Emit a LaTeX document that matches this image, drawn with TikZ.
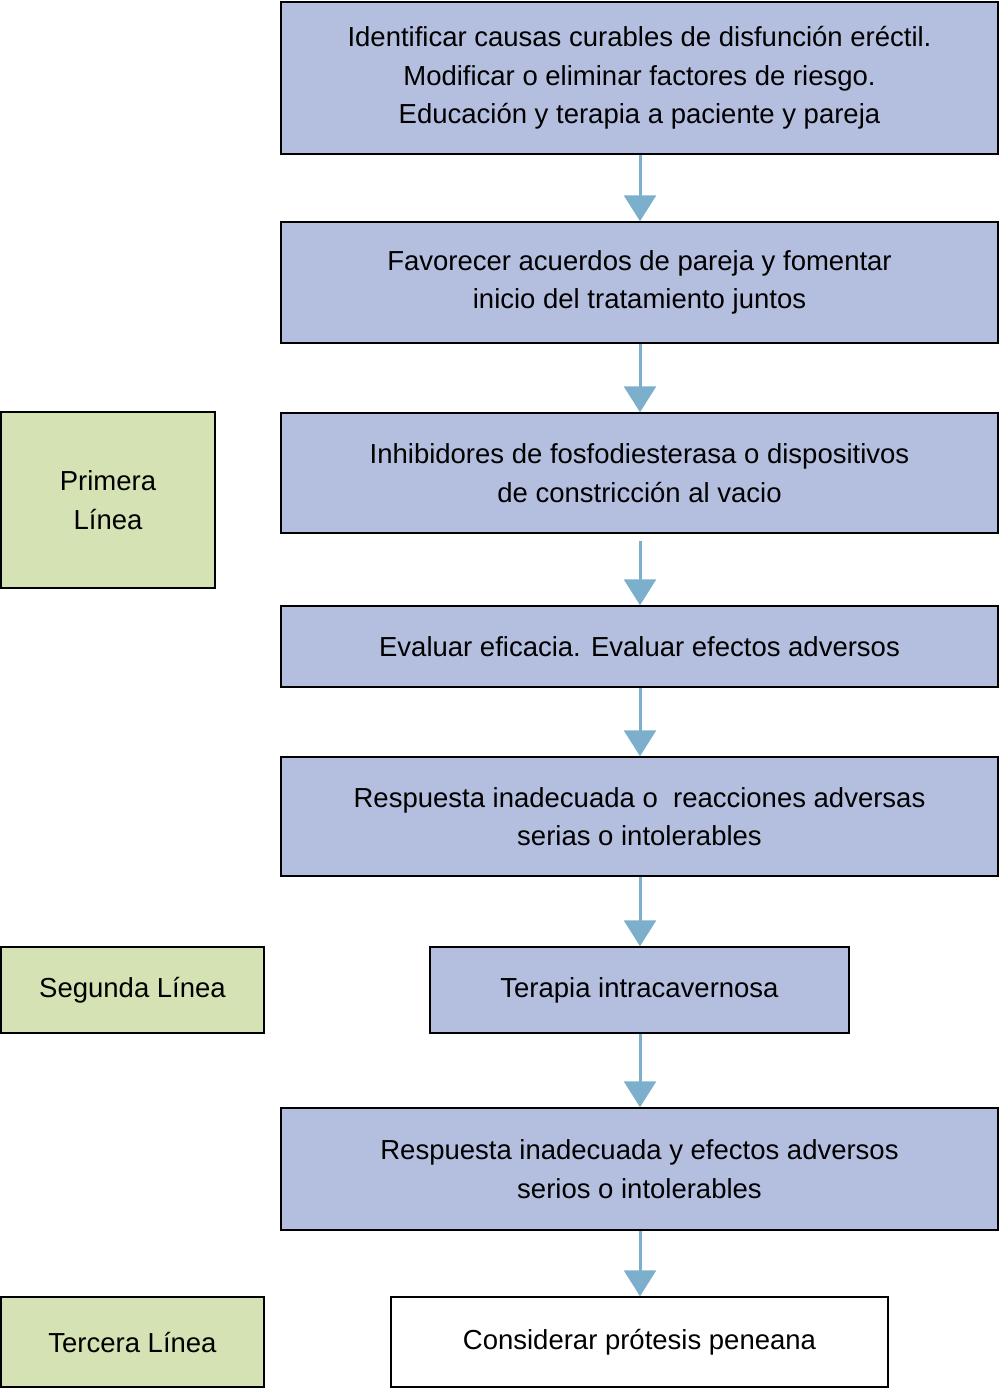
\documentclass[tikz,border=0pt]{standalone}
\usepackage{fontspec}
\setmainfont{Liberation Sans}
\usetikzlibrary{arrows.meta}
\definecolor{bfill}{HTML}{B4BFE0}
\definecolor{gfill}{HTML}{D5E2B4}
\definecolor{arr}{HTML}{7BAFCB}
\begin{document}
\begin{tikzpicture}[x=1pt,y=-1pt,
  box/.style={draw=black,line width=1.5pt,fill=bfill,align=center,font=\fontsize{27.5}{38.5}\selectfont},
  gbox/.style={box,fill=gfill},
  wbox/.style={box,fill=white},
  ar/.style={draw=arr,line width=3pt,-{Triangle[width=32pt,length=26pt]}}]
\useasboundingbox (0,0) rectangle (1000,1389);
\def\bx#1#2#3#4#5#6#7{\node[#1,minimum width=#4-#3,minimum height=#6-#5,inner sep=0pt] (#2) at ({(#3+#4)/2},{(#5+#6)/2}) {#7};}
\bx{box}{b1}{281}{998}{2}{154}{Identificar causas curables de disfunción eréctil.\\Modificar o eliminar factores de riesgo.\\Educación y terapia a paciente y pareja}
\bx{box}{b2}{281}{998}{222}{343}{Favorecer acuerdos de pareja y fomentar\\inicio del tratamiento juntos}
\bx{box}{b3}{281}{998}{413}{533}{Inhibidores de fosfodiesterasa o dispositivos\\de constricción al vacio}
\bx{box}{b4}{281}{998}{606}{687}{Evaluar eficacia. Evaluar efectos adversos}
\bx{box}{b5}{281}{998}{757}{876}{Respuesta inadecuada o\ \ reacciones adversas\\serias o intolerables}
\bx{box}{b6}{430}{849}{947}{1033}{Terapia intracavernosa}
\bx{box}{b7}{281}{998}{1108}{1230}{Respuesta inadecuada y efectos adversos\\serios o intolerables}
\bx{wbox}{b8}{391}{888}{1297}{1387}{Considerar prótesis peneana}
\bx{gbox}{g1}{1}{215}{412}{588}{Primera\\Línea}
\bx{gbox}{g2}{1}{264}{947}{1033}{Segunda Línea}
\bx{gbox}{g3}{1}{264}{1297}{1387}{Tercera Línea}
\coordinate (s3) at (640,541);
\draw[ar] (b1.south -| 640,0) -- (b2.north -| 640,0);
\draw[ar] (b2.south -| 640,0) -- (b3.north -| 640,0);
\draw[ar] (s3) -- (b4.north -| 640,0);
\draw[ar] (b4.south -| 640,0) -- (b5.north -| 640,0);
\draw[ar] (b5.south -| 640,0) -- (b6.north -| 640,0);
\draw[ar] (b6.south -| 640,0) -- (b7.north -| 640,0);
\draw[ar] (b7.south -| 640,0) -- (b8.north -| 640,0);
\end{tikzpicture}
\end{document}
